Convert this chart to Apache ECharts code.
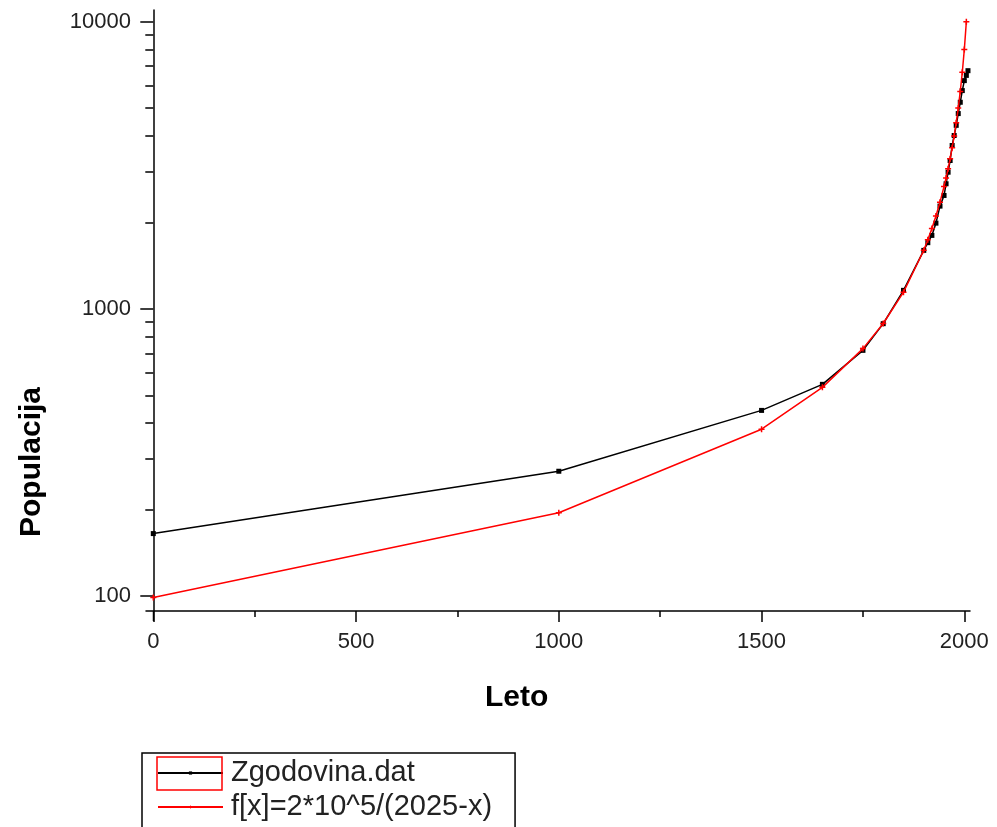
<!DOCTYPE html>
<html>
<head>
<meta charset="utf-8">
<script src="https://cdn.jsdelivr.net/npm/echarts@6/dist/echarts.min.js"></script>
<style>html,body{margin:0;padding:0;background:#fff;}#c{width:997px;height:827px;}</style>
</head>
<body>
<div id="c"></div>
<script>
// Data
const histYears = [0, 1000, 1500, 1650, 1750, 1800, 1850, 1900, 1910, 1920, 1930, 1940, 1950, 1955, 1960, 1965, 1970, 1975, 1980, 1985, 1990, 1995, 2000, 2005, 2009];
const histPop   = [165, 272, 443, 546, 717, 888, 1160, 1598, 1700, 1802, 1988, 2279, 2482, 2726, 2991, 3285, 3705, 4014, 4355, 4786, 5240, 5754, 6234, 6500, 6750];
const fitYears  = [0, 1000, 1500, 1650, 1750, 1800, 1850, 1900, 1910, 1920, 1930, 1940, 1950, 1955, 1960, 1965, 1970, 1975, 1980, 1985, 1990, 1995, 2000, 2005];
const fitPop    = [98.8, 195.1, 381, 533, 727, 889, 1143, 1600, 1739, 1905, 2105, 2353, 2667, 2857, 3077, 3333, 3636, 4000, 4444, 5000, 5714, 6667, 8000, 10000];
const xMajorTicks = [0, 500, 1000, 1500, 2000];
const xMinorTicks = [250, 750, 1250, 1750];
const yMajorTicks = [100, 1000, 10000];
const yMinorTicks = [200, 300, 400, 500, 600, 700, 800, 900, 2000, 3000, 4000, 5000, 6000, 7000, 8000, 9000];
const seriesNames = ['Zgodovina.dat', 'f[x]=2*10^5/(2025-x)'];
const xTitle = 'Leto';
const yTitle = 'Populacija';

const FONT = '"Liberation Sans", Arial, sans-serif';
const chart = echarts.init(document.getElementById('c'), null, {renderer: 'canvas'});
const XMIN = -18, XMAX = 2014, YMIN = 88.7, YMAX = 10980;
const axisLine = {show: true, lineStyle: {color: '#000', width: 1.5}};

chart.setOption({
  animation: false,
  backgroundColor: '#fff',
  grid: {left: 146, right: 27, top: 10, bottom: 216, containLabel: false},
  xAxis: [
    {type: 'value', min: XMIN, max: XMAX, position: 'bottom',
     axisLine: Object.assign({onZero: false}, axisLine),
     axisTick: {show: true, inside: false, length: 11, customValues: xMajorTicks, lineStyle: {color: '#000', width: 1.5}},
     axisLabel: {show: true, customValues: xMajorTicks, margin: 20, color: '#222', fontSize: 22, fontFamily: FONT,
                 formatter: v => String(Math.round(v))},
     splitLine: {show: false}},
    {type: 'value', min: XMIN, max: XMAX, position: 'bottom',
     axisLine: {show: false, onZero: false},
     axisTick: {show: true, inside: false, length: 6, customValues: xMinorTicks, lineStyle: {color: '#000', width: 1.5}},
     axisLabel: {show: false}, splitLine: {show: false}}
  ],
  yAxis: [
    {type: 'log', logBase: 10, min: YMIN, max: YMAX, position: 'left',
     axisLine: Object.assign({onZero: true}, axisLine),
     axisTick: {show: true, inside: false, length: 13, customValues: yMajorTicks, lineStyle: {color: '#000', width: 1.5}},
     axisLabel: {show: true, customValues: yMajorTicks, margin: 15, color: '#222', fontSize: 22, fontFamily: FONT,
                 formatter: v => String(Math.round(v))},
     splitLine: {show: false}},
    {type: 'log', logBase: 10, min: YMIN, max: YMAX, position: 'left',
     axisLine: {show: false, onZero: true},
     axisTick: {show: true, inside: false, length: 8, customValues: yMinorTicks, lineStyle: {color: '#000', width: 1.5}},
     axisLabel: {show: false}, splitLine: {show: false}}
  ],
  legend: {
    orient: 'vertical', left: 142, top: 753, height: 120,
    padding: [5, 23, 12, 15],
    borderColor: '#000', borderWidth: 1.5,
    itemWidth: 65, itemHeight: 4, itemGap: 4,
    textStyle: {fontSize: 29, fontFamily: FONT, color: '#222', lineHeight: 30, padding: [0, 0, 0, 3]},
    data: seriesNames
  },
  series: [
    {name: seriesNames[0], type: 'line', xAxisIndex: 0, yAxisIndex: 0,
     data: histYears.map((x, i) => [x, histPop[i]]),
     symbol: 'rect', symbolSize: 5, showSymbol: true,
     lineStyle: {color: '#000', width: 1.5}, itemStyle: {color: '#000'}, z: 2},
    {name: seriesNames[1], type: 'line', xAxisIndex: 0, yAxisIndex: 0,
     data: fitYears.map((x, i) => [x, fitPop[i]]),
     symbol: 'path://M-0.25,-1H0.25V-0.25H1V0.25H0.25V1H-0.25V0.25H-1V-0.25H-0.25Z', symbolSize: 6, showSymbol: true,
     lineStyle: {color: '#f00', width: 1.5}, itemStyle: {color: '#f00'}, z: 3}
  ],
  graphic: [
    {type: 'text', left: 485, top: 683, style: {text: xTitle, font: 'bold 30px ' + FONT, fill: '#000'}},
    {type: 'text', x: 17, y: 537, rotation: Math.PI / 2, style: {text: yTitle, font: 'bold 30px ' + FONT, fill: '#000'}},
    {type: 'line', shape: {x1: 153.5, y1: 611, x2: 153.5, y2: 621}, style: {stroke: '#000', lineWidth: 1.5}},
    {type: 'rect', shape: {x: 157, y: 757, width: 65, height: 33}, style: {fill: 'none', stroke: '#f00', lineWidth: 1.5}, z: 100}
  ]
});
</script>
</body>
</html>
